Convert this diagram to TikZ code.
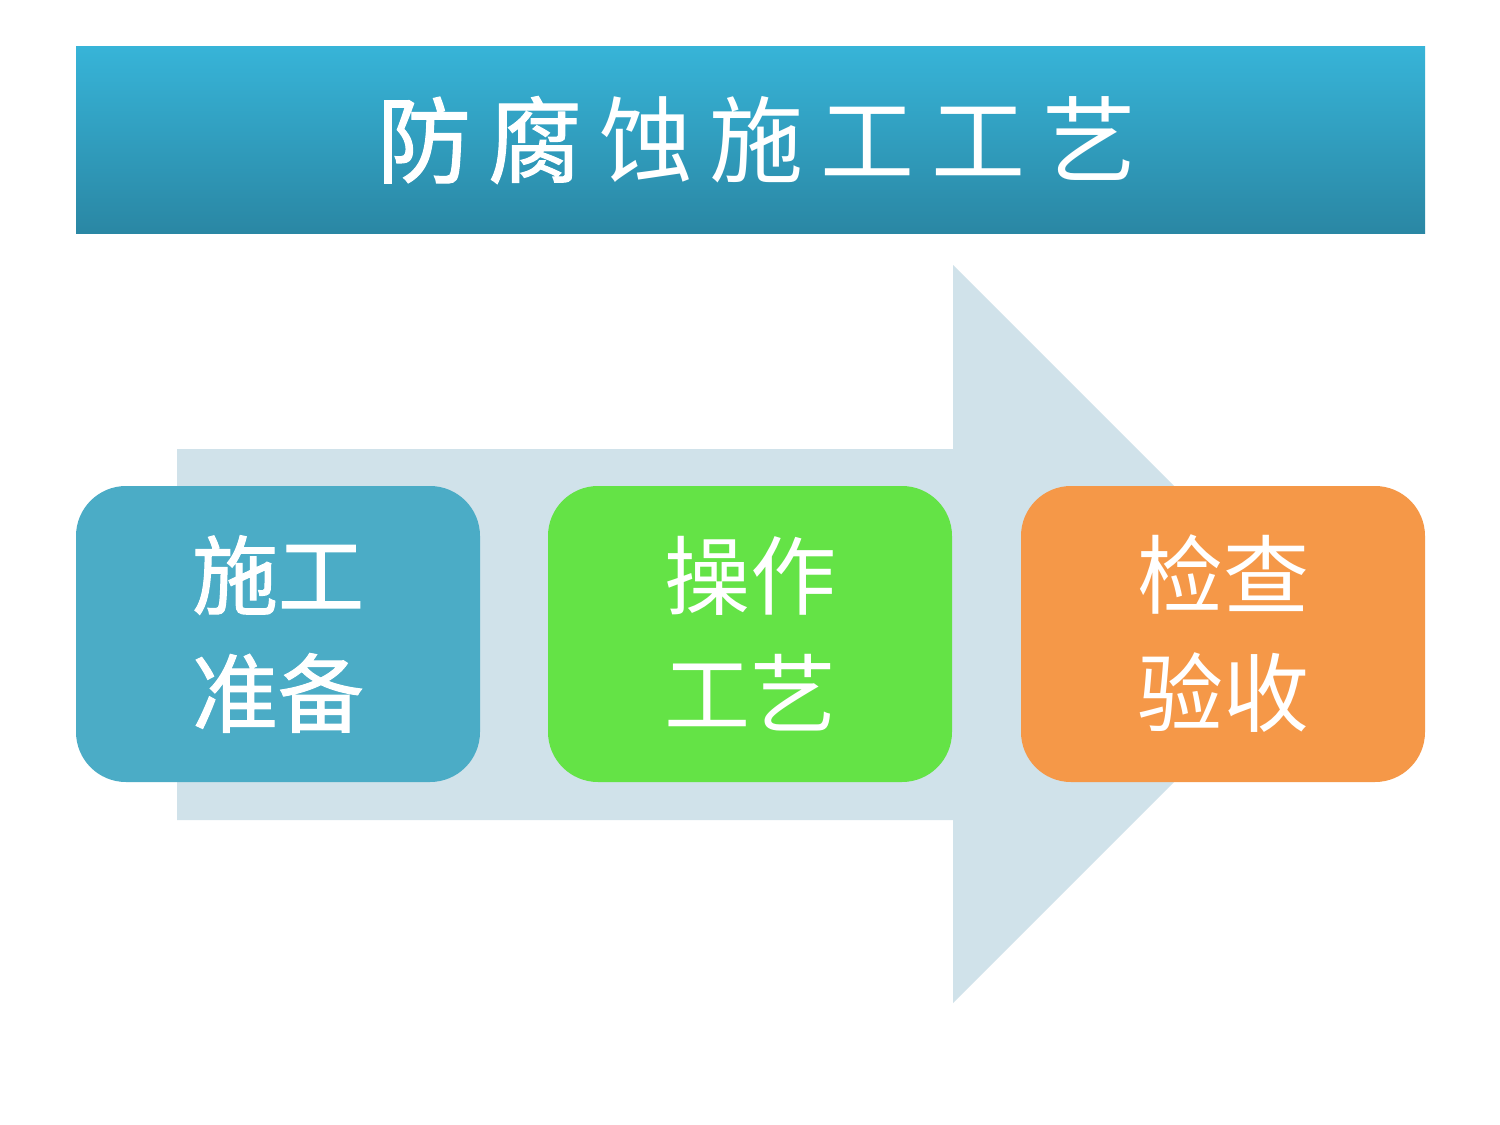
\documentclass[tikz,border=0pt]{standalone}
\usepackage{fontspec}
\newfontfamily\cjk{Noto Sans CJK SC}
\newfontfamily\cjkmed[FakeBold=1.2]{Noto Sans CJK SC}
\definecolor{titletop}{HTML}{37B4D8}
\definecolor{titlebot}{HTML}{2A87A4}
\definecolor{arrowfill}{HTML}{D0E2EA}
\definecolor{boxblue}{HTML}{4BACC6}
\definecolor{boxgreen}{HTML}{64E346}
\definecolor{boxorange}{HTML}{F59848}
\tikzset{
  titletext/.style={inner sep=0pt, text=white, font=\cjk\fontsize{94}{100}\selectfont},
  stepbox/.style={rounded corners=50pt, minimum width=404pt, minimum height=296pt, inner sep=0pt, text=white, align=center, font=\cjk\fontsize{86}{118}\selectfont},
}
\begin{document}
\begin{tikzpicture}[x=1pt,y=-1pt]
\useasboundingbox (0,0) rectangle (1500,1125);
\fill[white] (0,0) rectangle (1500,1125);
\shade[top color=titletop, bottom color=titlebot] (76,46) rectangle (1425,233);
\node[titletext] (title) at (757,140) {{\cjkmed 防\kern17pt腐}\kern17pt蚀\kern17pt施\kern17pt工\kern17pt工\kern17pt艺};
\fill[arrowfill] (177,449) -- (953,449) -- (953,265) -- (1322,634) -- (953,1003) -- (953,820) -- (177,820) -- cycle;
\node[stepbox, fill=boxblue, font=\cjkmed\fontsize{86}{118}\selectfont] (s1) at (278,634) {施工\\准备};
\node[stepbox, fill=boxgreen] (s2) at (750,634) {操作\\工艺};
\node[stepbox, fill=boxorange] (s3) at (1223,634) {检查\\验收};
\end{tikzpicture}
\end{document}
